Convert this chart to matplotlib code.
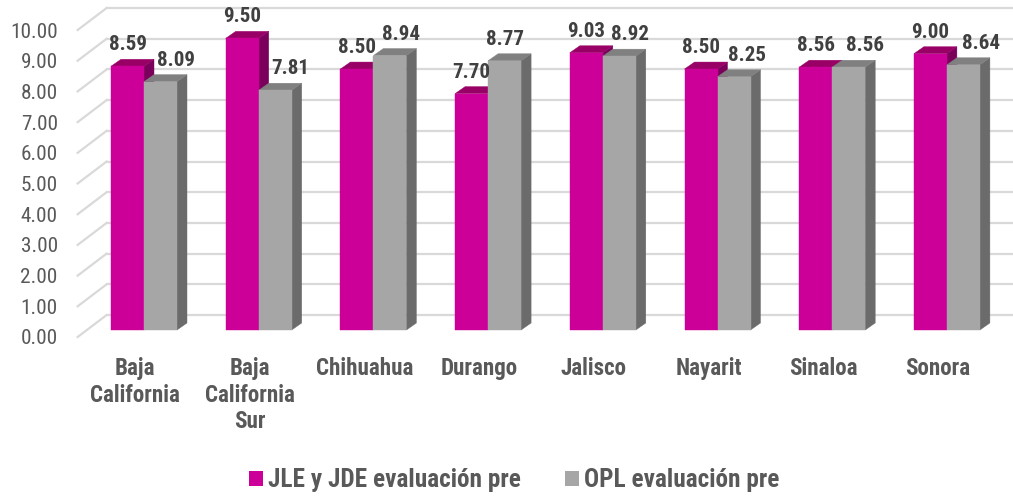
import matplotlib
matplotlib.use("Agg")
import matplotlib.pyplot as plt
from matplotlib.patches import Patch

# datos
estados = ["Baja\nCalifornia", "Baja\nCalifornia\nSur", "Chihuahua", "Durango",
           "Jalisco", "Nayarit", "Sinaloa", "Sonora"]
jle_jde = [8.59, 9.50, 8.50, 7.70, 9.03, 8.50, 8.56, 9.00]
opl = [8.09, 7.81, 8.94, 8.77, 8.92, 8.25, 8.56, 8.64]
y_ticks = [0, 1, 2, 3, 4, 5, 6, 7, 8, 9, 10]
series = ["JLE y JDE evaluación pre", "OPL evaluación pre"]

# corrimiento (px) de las etiquetas OPL como en el original
desplaz_opl = [16, 15, 11, 0, 11, 13, 16, 18]

plt.rcParams['font.family'] = ['Roboto Condensed', 'DejaVu Sans']

# colores (frente, lado, tapa)
magenta = ('#CC0099', '#7A005C', '#990066')
gris = ('#A6A6A6', '#6B6B6B', '#808080')
grid_c = '#D9D9D9'

# escala aproximada en pixeles para la proyeccion oblicua
PX = 1 / 114.7
PY = 1 / 30.7
w = 33 * PX                       # ancho de cada barra
bdx, bdy = 10 * PX, 7 * PY        # profundidad de la barra
wdx, wdy = 20 * PX, 15 * PY       # pared del fondo
fdx, fdy = -9 * PX, -7 * PY       # borde frontal del piso

fig = plt.figure(figsize=(10.13, 4.96), dpi=100)
ax = fig.add_axes([0, 0, 1, 1])
ax.set_xlim(-144 * PX, (1013 - 144) * PX)
ax.set_ylim((330 - 496) * PY, 330 * PY)
ax.axis('off')
rend = fig.canvas.get_renderer()


def tam(texto, ancho, peso='normal'):
    # tamaño de letra para que el texto mida 'ancho' pixeles
    t = fig.text(0, 0, texto, fontsize=10, fontweight=peso)
    bw = t.get_window_extent(renderer=rend).width
    t.remove()
    return 10 * ancho / bw


fs_tick = tam("10.00", 47)
fs_lab = tam("8.59", 38, 'bold')
fs_cat = tam("California", 90, 'bold')
fs_leg = tam(series[0], 252, 'bold')

n = len(estados)
x_left, x_right = -0.5, n - 0.5

# lineas de division (pared y lado izquierdo)
for v in y_ticks:
    ax.plot([x_left + wdx, x_right + wdx], [v + wdy, v + wdy], color=grid_c, lw=1.6, zorder=1)
    ax.plot([x_left + fdx, x_left + wdx], [v + fdy, v + wdy], color=grid_c, lw=1.6, zorder=1)
    ax.text(x_left + fdx - 20 * PX, v + fdy - 7.5 * PY, f"{v:.2f}", ha='right', va='baseline',
            fontsize=fs_tick, color='#595959')


def barra(x0, h, cols, dx_lab=0):
    front, side, top = cols
    ax.fill([x0 + w, x0 + w + bdx, x0 + w + bdx, x0 + w], [0, bdy, h + bdy, h],
            color=side, lw=0.3, zorder=2)
    ax.fill([x0, x0 + w, x0 + w + bdx, x0 + bdx], [h, h, h + bdy, h + bdy],
            color=top, lw=0.3, zorder=2)
    ax.fill([x0, x0 + w, x0 + w, x0], [0, 0, h, h], color=front, lw=0.3, zorder=2)
    ax.text(x0 + w / 2 + dx_lab * PX, h + 16 * PY, f"{h:.2f}", ha='center', va='baseline',
            fontsize=fs_lab, fontweight='bold', color='#404040', zorder=3)


for i in range(n):
    barra(i - w, jle_jde[i], magenta)
    barra(i, opl[i], gris, desplaz_opl[i])
    ax.text(i + fdx, -27 * PY, estados[i], ha='center', va='top', fontsize=fs_cat,
            fontweight='bold', color='#595959', linespacing=1.2)

handles = [Patch(facecolor=magenta[0], edgecolor='none', label=series[0]),
           Patch(facecolor=gris[0], edgecolor='none', label=series[1])]
em = fs_leg * 100 / 72
leg = fig.legend(handles=handles, loc='center', bbox_to_anchor=(0.508, 0.032), ncol=2,
                 frameon=False, handlelength=14 / em, handleheight=14 / em,
                 handletextpad=5 / em, columnspacing=44 / em, borderpad=0,
                 prop={'size': fs_leg, 'weight': 'bold'})
for t in leg.get_texts():
    t.set_color('#595959')

fig.savefig("out.png", dpi=100)
